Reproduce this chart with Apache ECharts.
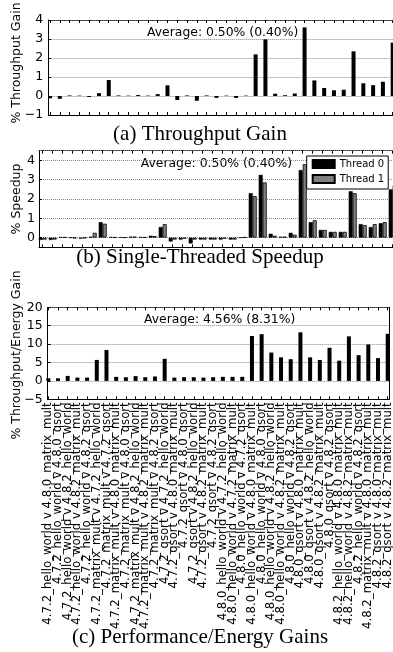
<!DOCTYPE html>
<html><head><meta charset="utf-8">
<script src="https://cdn.jsdelivr.net/npm/echarts@6/dist/echarts.min.js"></script>
<style>html,body{margin:0;padding:0;background:#fff}#c{width:393px;height:652px}</style>
</head><body><div id="c"></div>
<script>
const categories = [
"4.7.2_hello_world v 4.8.0_matrix_mult",
"4.7.2_hello_world v 4.8.0_qsort",
"4.7.2_hello_world v 4.8.2_hello_world",
"4.7.2_hello_world v 4.8.2_matrix_mult",
"4.7.2_hello_world v 4.8.2_qsort",
"4.7.2_matrix_mult v 4.7.2_hello_world",
"4.7.2_matrix_mult v 4.7.2_qsort",
"4.7.2_matrix_mult v 4.8.0_matrix_mult",
"4.7.2_matrix_mult v 4.8.0_qsort",
"4.7.2_matrix_mult v 4.8.2_hello_world",
"4.7.2_matrix_mult v 4.8.2_matrix_mult",
"4.7.2_matrix_mult v 4.8.2_qsort",
"4.7.2_qsort v 4.7.2_hello_world",
"4.7.2_qsort v 4.8.0_matrix_mult",
"4.7.2_qsort v 4.8.0_qsort",
"4.7.2_qsort v 4.8.2_hello_world",
"4.7.2_qsort v 4.8.2_matrix_mult",
"4.7.2_qsort v 4.8.2_qsort",
"4.8.0_hello_world v 4.7.2_hello_world",
"4.8.0_hello_world v 4.7.2_matrix_mult",
"4.8.0_hello_world v 4.7.2_qsort",
"4.8.0_hello_world v 4.8.0_matrix_mult",
"4.8.0_hello_world v 4.8.0_qsort",
"4.8.0_hello_world v 4.8.2_hello_world",
"4.8.0_hello_world v 4.8.2_matrix_mult",
"4.8.0_hello_world v 4.8.2_qsort",
"4.8.0_qsort v 4.8.0_matrix_mult",
"4.8.0_qsort v 4.8.2_hello_world",
"4.8.0_qsort v 4.8.2_matrix_mult",
"4.8.0_qsort v 4.8.2_qsort",
"4.8.2_hello_world v 4.8.0_matrix_mult",
"4.8.2_hello_world v 4.8.2_matrix_mult",
"4.8.2_hello_world v 4.8.2_qsort",
"4.8.2_matrix_mult v 4.8.0_matrix_mult",
"4.8.2_qsort v 4.8.0_matrix_mult",
"4.8.2_qsort v 4.8.2_matrix_mult"
];

const throughputGain = [-0.12,-0.15,0.03,0.02,-0.05,0.15,0.84,0.03,0.02,0.05,
  0.02,0.1,0.56,-0.21,0.03,-0.25,0.03,-0.1,0.02,-0.1,
  0.02,2.19,2.98,0.12,0.04,0.13,3.61,0.82,0.42,0.3,
  0.33,2.35,0.67,0.57,0.75,2.81];

const speedupThread0 = [-0.12,-0.12,0.03,0.0,-0.05,0.05,0.8,0.03,0.02,0.05,
  0.03,0.1,0.55,-0.2,-0.1,-0.3,-0.1,-0.1,-0.1,-0.1,
  0.0,2.3,3.25,0.2,0.05,0.25,3.5,0.8,0.4,0.3,
  0.3,2.4,0.7,0.55,0.75,2.5];
const speedupThread1 = [-0.1,-0.1,0.02,-0.03,-0.02,0.25,0.72,0.02,0.01,0.05,
  0.02,0.08,0.7,-0.1,-0.05,-0.1,-0.1,-0.1,-0.05,-0.1,
  0.02,2.15,2.86,0.1,0.05,0.15,3.8,0.9,0.4,0.3,
  0.3,2.3,0.65,0.7,0.8,2.7];

const perfEnergyGain = [0.7,0.7,1.35,0.9,0.9,5.7,8.4,1.1,1.0,1.3,
  1.0,1.2,6.0,0.9,1.0,1.0,0.9,1.0,1.1,1.1,
  1.1,12.2,12.7,7.7,6.4,5.9,13.2,6.4,5.7,9.0,
  5.5,12.1,7.0,9.9,6.2,12.8];

const seriesNames = ["Thread 0", "Thread 1"];
const speedupTicks = [0, 1, 2, 3, 4];
const averageTexts = ["Average: 0.50% (0.40%)", "Average: 0.50% (0.40%)", "Average: 4.56% (8.31%)"];
const captions = ["(a) Throughput Gain", "(b) Single-Threaded Speedup", "(c) Performance/Energy Gains"];
const yNames = ["% Throughput Gain", "% Speedup", "% Throughput/Energy Gain"];

const FONT = "DejaVu Sans";
const minusFmt = v => (v < 0 ? "\u2212" + Math.abs(v) : String(v));

function frameX(g, pos, dotted) {
  return {gridIndex: g, type: 'value', min: 0, max: 1, position: pos,
    axisLine: {show: true, onZero: false, lineStyle: {color: dotted ? '#333' : '#000', width: 1, type: dotted ? 'dotted' : 'solid'}},
    axisTick: {show: false}, axisLabel: {show: false}, splitLine: {show: false}};
}
function dataX(g, pos, labels) {
  return {gridIndex: g, type: 'category', data: categories, boundaryGap: false, position: pos,
    axisLine: {show: false, onZero: false},
    axisTick: {show: true, inside: true, length: 3, interval: 0, lineStyle: {color: '#000'}},
    axisLabel: labels ? {show: true, interval: 0, rotate: 90, fontSize: 11.7, fontFamily: FONT, color: '#000', margin: 3, hideOverlap: false} : {show: false},
    splitLine: {show: false}};
}
function frameYLeft(g, min, max, interval, margin, extra) {
  const ax = {gridIndex: g, type: 'value', min: min, max: max, position: 'left',
    axisLine: {show: true, onZero: false, lineStyle: {color: '#000', width: 1}},
    axisTick: {show: true, inside: true, length: 3, lineStyle: {color: '#000'}},
    axisLabel: {fontSize: 12.5, fontFamily: FONT, color: '#000', margin: margin, formatter: minusFmt},
    splitLine: {show: true, lineStyle: {type: 'dotted', color: '#8a8a8a', width: 1}}};
  if (interval != null) ax.interval = interval;
  if (extra) {
    ax.axisLabel.customValues = extra;
    ax.axisTick.customValues = extra;
  }
  return ax;
}
function frameYRight(g, min, max) {
  return {gridIndex: g, type: 'value', min: min, max: max, position: 'right',
    axisLine: {show: true, onZero: false, lineStyle: {color: '#000', width: 1}},
    axisTick: {show: false}, axisLabel: {show: false}, splitLine: {show: false}};
}
function dataY(g, min, max) {
  return {gridIndex: g, type: 'value', min: min, max: max, show: false,
    axisLine: {onZero: false}, splitLine: {show: false}};
}
function yTitle(text, cy) {
  return {type: 'text', x: 16.5, y: cy, rotation: Math.PI / 2,
    style: {text: text, font: '12.5px "DejaVu Sans"', fill: '#000', align: 'center', verticalAlign: 'middle'}};
}

const option = {
  animation: false,
  backgroundColor: '#fff',
  grid: [
    {left: 48.3, top: 20, width: 347, height: 95, outerBoundsMode: 'none'},
    {left: 50, top: 20, width: 342.7, height: 95, outerBoundsMode: 'none'},
    {left: 39, top: 150.7, width: 357, height: 96.6, outerBoundsMode: 'none'},
    {left: 42.7, top: 150.7, width: 350, height: 96.6, outerBoundsMode: 'none'},
    {left: 47.7, top: 307.3, width: 341.6, height: 92, outerBoundsMode: 'none'},
    {left: 48.3, top: 307.3, width: 339.4, height: 92, outerBoundsMode: 'none'}
  ],
  xAxis: [
    frameX(0, 'bottom', false), frameX(0, 'top', true), dataX(1, 'bottom', false), dataX(1, 'top', false),
    frameX(2, 'bottom', false), frameX(2, 'top', true), dataX(3, 'bottom', false), dataX(3, 'top', false),
    frameX(4, 'bottom', false), frameX(4, 'top', true), dataX(5, 'bottom', true), dataX(5, 'top', false)
  ],
  yAxis: [
    frameYLeft(0, -1, 4, 1, 5), frameYRight(0, -1, 4), dataY(1, -1, 4),
    frameYLeft(2, -0.5, 4.5, null, 4, speedupTicks), frameYRight(2, -0.5, 4.5), dataY(3, -0.5, 4.5),
    frameYLeft(4, -5, 20, 5, 5), frameYRight(4, -5, 20), dataY(5, -5, 20)
  ],
  legend: {
    data: seriesNames, orient: 'vertical', left: 306.7, top: 156,
    itemWidth: 22, itemHeight: 8, itemGap: 5, itemTextGap: 6,
    padding: [3, 4, 5, 5], borderColor: '#000', borderWidth: 1, borderRadius: 0, backgroundColor: '#fff',
    textStyle: {fontSize: 10, fontFamily: FONT, color: '#000'}, icon: 'rect'
  },
  series: [
    {type: 'bar', xAxisIndex: 2, yAxisIndex: 2, data: throughputGain, barWidth: 4, clip: false,
     itemStyle: {color: '#000'}},
    {type: 'bar', name: seriesNames[0], xAxisIndex: 6, yAxisIndex: 5, data: speedupThread0, barWidth: 4, barGap: '0%', clip: false,
     itemStyle: {color: '#000', borderColor: '#000', borderWidth: 0.6}},
    {type: 'bar', name: seriesNames[1], xAxisIndex: 6, yAxisIndex: 5, data: speedupThread1, barWidth: 4, barGap: '0%', clip: false,
     itemStyle: {color: '#808080', borderColor: '#000', borderWidth: 0.8}},
    {type: 'bar', xAxisIndex: 10, yAxisIndex: 8, data: perfEnergyGain, barWidth: 4, clip: false,
     itemStyle: {color: '#000'}}
  ],
  graphic: [
    yTitle(yNames[0], 63),
    yTitle(yNames[1], 199),
    yTitle(yNames[2], 355),
    {type: 'text', x: 147, y: 32.3, style: {text: averageTexts[0], font: '12.4px "DejaVu Sans"', fill: '#000', align: 'left', verticalAlign: 'middle'}},
    {type: 'text', x: 140.7, y: 163.3, style: {text: averageTexts[1], font: '12.4px "DejaVu Sans"', fill: '#000', align: 'left', verticalAlign: 'middle'}},
    {type: 'text', x: 144, y: 320, style: {text: averageTexts[2], font: '12.4px "DejaVu Sans"', fill: '#000', align: 'left', verticalAlign: 'middle'}},
    {type: 'text', x: 200, y: 134, style: {text: captions[0], font: '21px "Liberation Serif"', fill: '#000', align: 'center', verticalAlign: 'middle'}},
    {type: 'text', x: 200, y: 257.5, style: {text: captions[1], font: '21px "Liberation Serif"', fill: '#000', align: 'center', verticalAlign: 'middle'}},
    {type: 'text', x: 200, y: 637, style: {text: captions[2], font: '21px "Liberation Serif"', fill: '#000', align: 'center', verticalAlign: 'middle'}}
  ]
};
const chart = echarts.init(document.getElementById('c'), null, {renderer: 'canvas'});
chart.setOption(option);
</script>
</body></html>
